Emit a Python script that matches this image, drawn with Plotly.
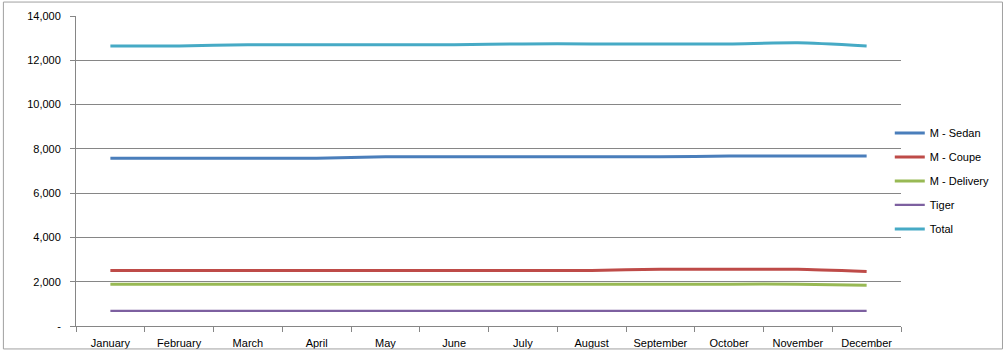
import plotly.graph_objects as go

months = ["January", "February", "March", "April", "May", "June", "July",
          "August", "September", "October", "November", "December"]
sedan = [7580, 7580, 7580, 7580, 7640, 7640, 7640, 7640, 7640, 7680, 7680, 7680]
coupe = [2510, 2510, 2510, 2510, 2510, 2510, 2510, 2510, 2560, 2560, 2560, 2460]
delivery = [1890, 1890, 1890, 1890, 1890, 1890, 1890, 1890, 1890, 1890, 1890, 1840]
tiger = [680, 680, 680, 680, 680, 680, 680, 680, 680, 680, 680, 680]
total = [12650, 12650, 12700, 12700, 12700, 12700, 12740, 12740, 12740, 12740, 12790, 12650]

series = [
    ("M - Sedan", sedan, "#4A7EBB", 3),
    ("M - Coupe", coupe, "#BE4B48", 3),
    ("M - Delivery", delivery, "#98B954", 3),
    ("Tiger", tiger, "#7D60A0", 2.2),
    ("Total", total, "#46AAC5", 3),
]

fig = go.Figure()
for name, vals, color, w in series:
    fig.add_trace(go.Scatter(
        x=months, y=vals, name=name, mode="lines",
        line=dict(color=color, width=w, shape="spline", smoothing=0.6),
        legendgroup=name,
    ))

font = dict(family="Liberation Sans, Arial, sans-serif", size=11, color="#000000")

fig.update_layout(
    width=1007, height=352,
    margin=dict(l=76, r=104, t=16, b=26),
    paper_bgcolor="white", plot_bgcolor="white",
    font=font,
    showlegend=True,
    legend=dict(x=0.9864, xanchor="left", y=0.468, yanchor="middle",
                font=font, tracegroupgap=5, bgcolor="rgba(0,0,0,0)",
                itemwidth=30),
    xaxis=dict(
        type="category", showgrid=False, showline=True, linecolor="#868686",
        linewidth=1, ticks="outside", tickson="boundaries", ticklen=5,
        tickcolor="#868686", tickfont=font, range=[-0.5, 11.5],
        ticklabelstandoff=7, automargin=False,
    ),
    yaxis=dict(
        range=[0, 14000], tickvals=[0, 2000, 4000, 6000, 8000, 10000, 12000, 14000],
        ticktext=["-", "2,000", "4,000", "6,000", "8,000", "10,000", "12,000", "14,000"],
        showgrid=True, gridcolor="#868686", gridwidth=1, showline=True,
        linecolor="#868686", linewidth=1, ticks="outside", ticklen=5,
        tickcolor="#868686", tickfont=font, zeroline=False, mirror=False,
        ticklabelstandoff=7, automargin=False,
    ),
    shapes=[dict(type="rect", xref="paper", yref="paper", x0=-0.088, x1=1.123,
                 y0=-0.074, y1=1.045, line=dict(color="#a0a0a0", width=1))],
)

fig.write_html("out.html")
